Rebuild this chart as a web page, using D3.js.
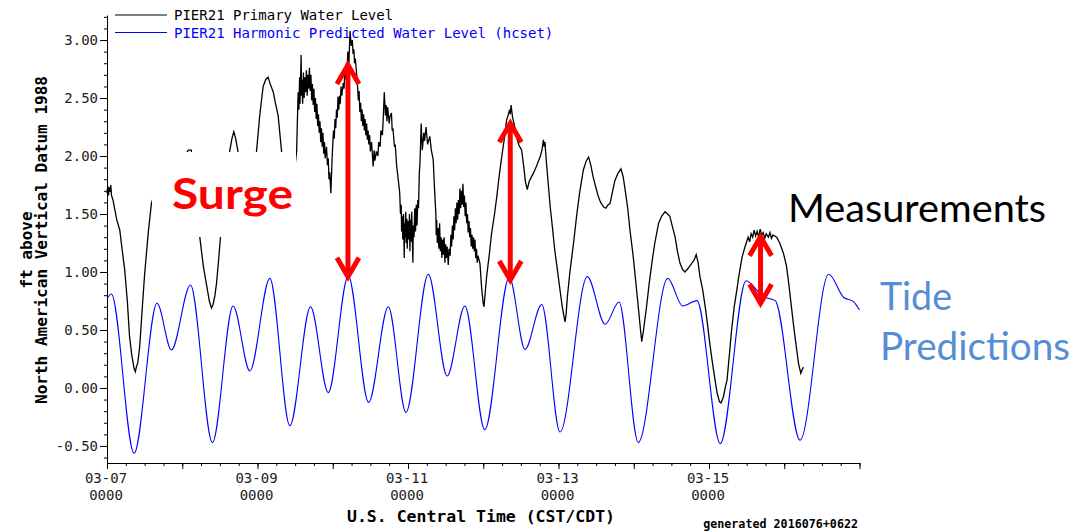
<!DOCTYPE html>
<html>
<head>
<meta charset="utf-8">
<script src="https://cdn.jsdelivr.net/npm/d3@7"></script>
<style>
  body { margin: 0; background: #fff; }
  svg { display: block; }
</style>
</head>
<body>
<div id="chart"></div>
<script>
// [days after 03-07 0000, ft above NAVD88]
const observed = [
  [0.00,1.68],[0.01,1.74],[0.02,1.66],[0.03,1.73],[0.04,1.69],[0.05,1.75],[0.06,1.66],[0.08,1.62],
  [0.10,1.55],[0.13,1.45],[0.17,1.36],[0.20,1.20],[0.235,1.02],[0.27,0.75],[0.30,0.44],[0.33,0.28],
  [0.36,0.17],[0.377,0.14],[0.39,0.18],[0.41,0.22],[0.435,0.36],[0.47,0.70],[0.50,0.98],[0.524,1.16],
  [0.55,1.35],[0.59,1.59],[0.65,1.72],[0.75,1.80],[0.85,1.88],[0.95,1.95],[1.05,2.02],[1.08,2.05],
  [1.12,2.05],[1.15,1.90],[1.19,1.60],[1.233,1.30],[1.28,1.05],[1.32,0.90],[1.36,0.75],[1.388,0.69],
  [1.41,0.72],[1.435,0.80],[1.455,0.90],[1.48,1.08],[1.508,1.30],[1.55,1.60],[1.60,1.88],[1.63,2.04],
  [1.66,2.15],[1.685,2.21],[1.71,2.15],[1.74,2.04],[1.80,1.80],[1.87,1.70],[1.93,1.85],[1.987,2.04],
  [2.03,2.35],[2.075,2.60],[2.11,2.66],[2.14,2.68],[2.17,2.62],[2.21,2.55],[2.24,2.45],[2.274,2.35],
  [2.32,2.04],[2.37,1.70],[2.42,1.55],[2.47,1.75],[2.52,2.04],[2.53,2.30],[2.54,2.55],[2.55,2.40],
  [2.56,2.68],[2.565,2.45],[2.57,2.62],[2.58,2.87],[2.585,2.52],[2.59,2.66],[2.60,2.45],[2.61,2.72],
  [2.62,2.50],[2.63,2.68],[2.64,2.55],[2.65,2.74],[2.66,2.52],[2.67,2.70],[2.68,2.58],[2.69,2.76],
  [2.70,2.56],[2.71,2.70],[2.72,2.48],[2.73,2.62],[2.74,2.44],[2.75,2.58],[2.76,2.38],[2.77,2.50],
  [2.78,2.32],[2.79,2.45],[2.80,2.26],[2.81,2.36],[2.82,2.20],[2.83,2.30],[2.84,2.12],[2.85,2.24],
  [2.86,2.08],[2.87,2.20],[2.88,2.02],[2.89,2.12],[2.90,1.98],[2.917,2.08],[2.93,1.92],[2.94,1.98],
  [2.95,1.80],[2.96,1.86],[2.975,1.68],[2.99,1.95],[3.00,2.10],[3.01,2.22],[3.02,2.15],[3.03,2.32],
  [3.04,2.24],[3.05,2.40],[3.06,2.33],[3.07,2.51],[3.08,2.40],[3.09,2.52],[3.10,2.45],[3.11,2.60],
  [3.12,2.52],[3.14,2.63],[3.15,2.58],[3.16,2.72],[3.17,2.66],[3.18,2.80],[3.19,2.74],[3.20,2.90],
  [3.215,2.80],[3.23,3.08],[3.245,2.95],[3.26,3.00],[3.27,2.88],[3.28,2.92],[3.29,2.80],[3.30,2.84],
  [3.316,2.72],[3.33,2.60],[3.34,2.48],[3.35,2.56],[3.36,2.38],[3.37,2.46],[3.38,2.30],[3.39,2.40],
  [3.40,2.26],[3.41,2.36],[3.42,2.22],[3.43,2.32],[3.44,2.18],[3.45,2.28],[3.46,2.14],[3.47,2.22],
  [3.48,2.10],[3.49,2.18],[3.50,2.04],[3.516,2.12],[3.537,1.91],[3.55,2.05],[3.56,1.96],[3.58,2.04],
  [3.60,2.00],[3.61,2.12],[3.63,2.08],[3.64,2.22],[3.66,2.18],[3.67,2.31],[3.685,2.55],[3.70,2.35],
  [3.71,2.44],[3.72,2.30],[3.73,2.42],[3.75,2.28],[3.76,2.34],[3.78,2.37],[3.79,2.22],[3.80,2.24],
  [3.82,2.08],[3.83,2.10],[3.85,1.91],[3.87,1.80],[3.89,1.68],[3.90,1.50],[3.91,1.58],[3.915,1.35],
  [3.925,1.48],[3.93,1.28],[3.94,1.50],[3.95,1.12],[3.955,1.42],[3.96,1.30],[3.97,1.52],[3.975,1.25],
  [3.985,1.46],[3.99,1.20],[4.00,1.44],[4.01,1.28],[4.02,1.50],[4.025,1.18],[4.035,1.45],[4.04,1.26],
  [4.05,1.52],[4.06,1.22],[4.065,1.08],[4.07,1.40],[4.08,1.30],[4.09,1.55],[4.10,1.35],[4.11,1.58],
  [4.12,1.40],[4.13,1.62],[4.14,1.55],[4.15,1.85],[4.16,1.95],[4.175,2.28],[4.19,2.05],[4.21,2.20],
  [4.22,2.13],[4.24,2.25],[4.26,2.10],[4.29,2.17],[4.31,2.05],[4.335,1.97],[4.35,1.75],[4.37,1.50],
  [4.375,1.32],[4.38,1.45],[4.39,1.25],[4.40,1.38],[4.41,1.20],[4.42,1.42],[4.43,1.18],[4.44,1.30],
  [4.45,1.12],[4.46,1.28],[4.47,1.15],[4.48,1.30],[4.49,1.08],[4.50,1.24],[4.51,1.12],[4.52,1.22],
  [4.535,1.06],[4.545,1.20],[4.56,1.14],[4.57,1.32],[4.58,1.22],[4.59,1.40],[4.60,1.28],[4.61,1.48],
  [4.62,1.36],[4.63,1.55],[4.64,1.42],[4.65,1.60],[4.66,1.45],[4.67,1.62],[4.68,1.50],[4.69,1.72],
  [4.70,1.55],[4.71,1.70],[4.72,1.58],[4.73,1.76],[4.74,1.56],[4.75,1.66],[4.76,1.48],[4.77,1.60],
  [4.78,1.42],[4.79,1.50],[4.80,1.34],[4.81,1.44],[4.82,1.30],[4.83,1.38],[4.84,1.22],[4.85,1.32],
  [4.86,1.20],[4.87,1.30],[4.88,1.18],[4.89,1.28],[4.90,1.12],[4.91,1.20],[4.92,1.08],[4.93,1.14],
  [4.956,1.075],[4.98,0.85],[5.00,0.73],
  [5.01,0.70],[5.03,0.85],[5.045,0.96],[5.08,1.15],[5.11,1.33],[5.15,1.50],[5.18,1.65],[5.21,1.82],
  [5.245,1.99],[5.28,2.15],[5.31,2.31],[5.33,2.35],[5.35,2.40],[5.36,2.36],[5.37,2.44],[5.39,2.33],
  [5.41,2.28],[5.44,2.17],[5.47,2.10],[5.51,2.05],[5.54,1.90],[5.56,1.78],[5.585,1.71],[5.61,1.78],
  [5.64,1.82],[5.665,1.85],[5.70,1.90],[5.73,1.95],[5.76,2.00],[5.78,2.05],[5.80,2.14],[5.81,2.08],
  [5.82,2.12],[5.84,1.94],[5.865,1.75],[5.89,1.56],[5.92,1.38],[5.95,1.19],[5.985,1.02],[6.02,0.845],
  [6.05,0.70],[6.086,0.57],[6.10,0.63],[6.12,0.80],[6.15,0.99],[6.20,1.25],[6.24,1.48],[6.28,1.68],
  [6.33,1.88],[6.37,1.96],[6.40,1.99],[6.43,1.92],[6.46,1.82],[6.50,1.72],[6.53,1.65],[6.56,1.60],
  [6.60,1.56],[6.63,1.55],[6.66,1.58],[6.685,1.59],[6.72,1.70],[6.75,1.79],[6.79,1.85],[6.83,1.89],
  [6.86,1.82],[6.885,1.71],[6.92,1.55],[6.95,1.36],[6.99,1.15],[7.02,0.96],[7.06,0.70],[7.09,0.50],
  [7.106,0.40],[7.13,0.50],[7.17,0.70],[7.205,0.90],[7.24,1.075],[7.28,1.25],[7.33,1.42],[7.37,1.48],
  [7.416,1.52],[7.45,1.50],[7.48,1.48],[7.51,1.40],[7.55,1.30],[7.58,1.18],[7.615,1.075],[7.65,1.02],
  [7.68,1.00],[7.72,1.03],[7.77,1.075],[7.80,1.10],[7.83,1.15],[7.855,1.08],[7.88,0.96],[7.915,0.85],
  [7.95,0.70],[7.98,0.55],[8.01,0.385],[8.045,0.22],[8.08,0.07],[8.11,-0.05],[8.14,-0.12],[8.16,-0.13],
  [8.19,-0.08],[8.215,0.00],[8.24,0.07],[8.27,0.28],[8.30,0.50],[8.335,0.70],[8.37,0.845],[8.40,0.98],
  [8.44,1.13],[8.48,1.22],[8.52,1.30],[8.54,1.26],[8.56,1.33],[8.58,1.30],[8.60,1.36],[8.62,1.31],
  [8.64,1.35],[8.66,1.30],[8.68,1.37],[8.70,1.32],[8.72,1.34],[8.74,1.29],[8.76,1.33],[8.79,1.30],
  [8.81,1.34],[8.83,1.29],[8.85,1.32],[8.90,1.30],[8.94,1.25],[8.99,1.16],[9.03,1.05],[9.06,0.90],
  [9.09,0.73],[9.12,0.56],[9.155,0.38],[9.19,0.21],[9.22,0.127],[9.24,0.16],[9.255,0.18]
];

// harmonic prediction, highs / lows / shoulders
const predicted = [
  [0.00,0.77],[0.058,0.81],[0.36,-0.563],[0.665,0.73],[0.856,0.328],[1.109,0.888],[1.401,-0.471],
  [1.676,0.707],[1.898,0.147],[2.164,0.945],[2.43,-0.325],[2.705,0.70],[2.94,-0.04],[3.206,0.966],
  [3.477,-0.124],[3.738,0.70],[3.973,-0.21],[4.27,0.98],[4.52,0.103],[4.756,0.707],[5.02,-0.36],
  [5.346,0.955],[5.555,0.333],[5.777,0.72],[6.02,-0.38],[6.383,0.96],[6.62,0.549],[6.804,0.741],
  [7.06,-0.47],[7.452,0.945],[7.65,0.707],[7.84,0.753],[8.15,-0.48],[8.493,0.925],[8.72,0.787],
  [8.88,0.753],[9.21,-0.45],[9.59,0.98],[9.79,0.78],[9.92,0.745],[10.0,0.672]
];

const yMajorTicks = [-0.5, 0, 0.5, 1, 1.5, 2, 2.5, 3];
const xTickLabels = ["03-07", "03-09", "03-11", "03-13", "03-15"];
const seriesNames = ["PIER21 Primary Water Level", "PIER21 Harmonic Predicted Water Level (hcset)"];
const seriesColors = ["#000000", "#0000ff"];

// surge arrows: day, measured end, predicted end
const arrowDay = [3.202, 5.359, 8.685];
const arrowTop = [2.784, 2.282, 1.304];
const arrowBottom = [0.959, 0.931, 0.730];

const width = 1077, height = 531;
const t0 = Date.UTC(2016, 2, 7);
const dayMs = 864e5;
const toDate = d => new Date(t0 + d * dayMs);

const svg = d3.select("#chart").append("svg")
  .attr("width", width)
  .attr("height", height);

svg.append("rect").attr("width", width).attr("height", height).attr("fill", "#fff");

const x = d3.scaleUtc()
  .domain([toDate(0), toDate(10)])
  .range([107, 859.5]);

const y = d3.scaleLinear()
  .domain([-0.647, 3.216])
  .range([463, 15]);

const mono = "'DejaVu Sans Mono', 'Liberation Mono', monospace";

// y axis: minor then major ticks
svg.append("g")
  .attr("transform", "translate(107,0)")
  .call(d3.axisLeft(y).tickValues(d3.range(-6, 33).map(i => i / 10)).tickSize(3).tickFormat("").tickSizeOuter(0))
  .call(g => g.select(".domain").remove());

const yAxis = svg.append("g")
  .attr("transform", "translate(107,0)")
  .call(d3.axisLeft(y).tickValues(yMajorTicks).tickSize(7).tickSizeOuter(0)
    .tickFormat(v => v.toFixed(2)));
yAxis.selectAll("text")
  .attr("font-family", mono)
  .attr("font-size", 14)
  .attr("fill", "#222")
  .attr("x", -9);
yAxis.selectAll("line, path").attr("stroke", "#000");

// x axis: 6-hour and daily ticks
svg.append("g")
  .attr("transform", "translate(0,463)")
  .call(d3.axisBottom(x).ticks(d3.utcHour.every(6)).tickSize(3).tickFormat("").tickSizeOuter(0))
  .call(g => g.select(".domain").remove());

svg.append("g")
  .attr("transform", "translate(0,463)")
  .call(d3.axisBottom(x).ticks(d3.utcDay.every(1)).tickSize(6).tickFormat("").tickSizeOuter(0))
  .selectAll("line, path").attr("stroke", "#000");

const parseDay = d3.utcParse("%Y-%m-%d");
const xLabels = svg.append("g")
  .attr("font-family", mono)
  .attr("font-size", 14)
  .attr("fill", "#222")
  .attr("text-anchor", "middle");
xTickLabels.forEach(lab => {
  const px = x(parseDay("2016-" + lab)) - 1;
  xLabels.append("text").attr("x", px).attr("y", 483).text(lab);
  xLabels.append("text").attr("x", px).attr("y", 500).text("0000");
});

// axis titles
svg.append("text")
  .attr("x", 481).attr("y", 522)
  .attr("text-anchor", "middle")
  .attr("font-family", mono)
  .attr("font-weight", "bold")
  .attr("font-size", 16)
  .attr("textLength", 268)
  .attr("lengthAdjust", "spacingAndGlyphs")
  .text("U.S. Central Time (CST/CDT)");

svg.append("text")
  .attr("x", 858).attr("y", 528)
  .attr("text-anchor", "end")
  .attr("font-family", mono)
  .attr("font-weight", "bold")
  .attr("font-size", 11.7)
  .text("generated 2016076+0622");

svg.append("text")
  .attr("transform", "translate(32,250) rotate(-90)")
  .attr("text-anchor", "middle")
  .attr("font-family", mono)
  .attr("font-weight", "bold")
  .attr("font-size", 16)
  .text("ft above");

svg.append("text")
  .attr("transform", "translate(47,240) rotate(-90)")
  .attr("text-anchor", "middle")
  .attr("font-family", mono)
  .attr("font-weight", "bold")
  .attr("font-size", 16)
  .attr("textLength", 328)
  .attr("lengthAdjust", "spacingAndGlyphs")
  .text("North American Vertical Datum 1988");

// lines
const predLine = d3.line()
  .x(d => x(toDate(d[0])))
  .y(d => y(d[1]))
  .curve(d3.curveMonotoneX);

const obsLine = d3.line()
  .x(d => x(toDate(d[0])))
  .y(d => y(d[1]));

svg.append("path")
  .datum(predicted)
  .attr("d", predLine)
  .attr("fill", "none")
  .attr("stroke", seriesColors[1])
  .attr("stroke-width", 1.1);

svg.append("path")
  .datum(observed)
  .attr("d", obsLine)
  .attr("fill", "none")
  .attr("stroke", seriesColors[0])
  .attr("stroke-width", 1.3);

// legend
seriesNames.forEach((name, i) => {
  const ly = 15 + i * 17.5;
  svg.append("line")
    .attr("x1", 115).attr("x2", 167)
    .attr("y1", ly).attr("y2", ly)
    .attr("stroke", seriesColors[i]);
  svg.append("text")
    .attr("x", 174).attr("y", ly + 5)
    .attr("font-family", mono)
    .attr("font-size", 14)
    .attr("fill", seriesColors[i])
    .text(name);
});

// annotation layer
const sans = "Lato, 'Open Sans', sans-serif";
svg.append("rect")
  .attr("x", 152).attr("y", 152)
  .attr("width", 144).attr("height", 85)
  .attr("fill", "#fff");

svg.append("text")
  .attr("x", 172).attr("y", 209)
  .attr("font-family", sans)
  .attr("font-weight", "bold")
  .attr("font-size", 42)
  .attr("fill", "#ff0000")
  .attr("textLength", 121)
  .attr("lengthAdjust", "spacingAndGlyphs")
  .text("Surge");

const arrows = svg.append("g")
  .attr("stroke", "#ff0000")
  .attr("stroke-width", 5)
  .attr("fill", "none")
  .attr("stroke-linejoin", "miter");

arrowDay.forEach((d, i) => {
  const ax = x(toDate(d));
  const yt = y(arrowTop[i]);
  const yb = y(arrowBottom[i]);
  arrows.append("line").attr("x1", ax).attr("x2", ax).attr("y1", yt + 2).attr("y2", yb - 2);
  arrows.append("path").attr("d", `M${ax - 11},${yt + 19}L${ax},${yt}L${ax + 11},${yt + 19}`);
  arrows.append("path").attr("d", `M${ax - 11},${yb - 19}L${ax},${yb}L${ax + 11},${yb - 19}`);
});

svg.append("text")
  .attr("x", 788).attr("y", 222)
  .attr("font-family", sans)
  .attr("font-size", 38)
  .attr("fill", "#000")
  .attr("textLength", 258)
  .attr("lengthAdjust", "spacingAndGlyphs")
  .text("Measurements");

svg.append("text")
  .attr("x", 880).attr("y", 310)
  .attr("font-family", sans)
  .attr("font-size", 38)
  .attr("fill", "#558ed5")
  .attr("textLength", 72)
  .attr("lengthAdjust", "spacingAndGlyphs")
  .text("Tide");

svg.append("text")
  .attr("x", 880).attr("y", 360)
  .attr("font-family", sans)
  .attr("font-size", 38)
  .attr("fill", "#558ed5")
  .attr("textLength", 190)
  .attr("lengthAdjust", "spacingAndGlyphs")
  .text("Predictions");
</script>
</body>
</html>
